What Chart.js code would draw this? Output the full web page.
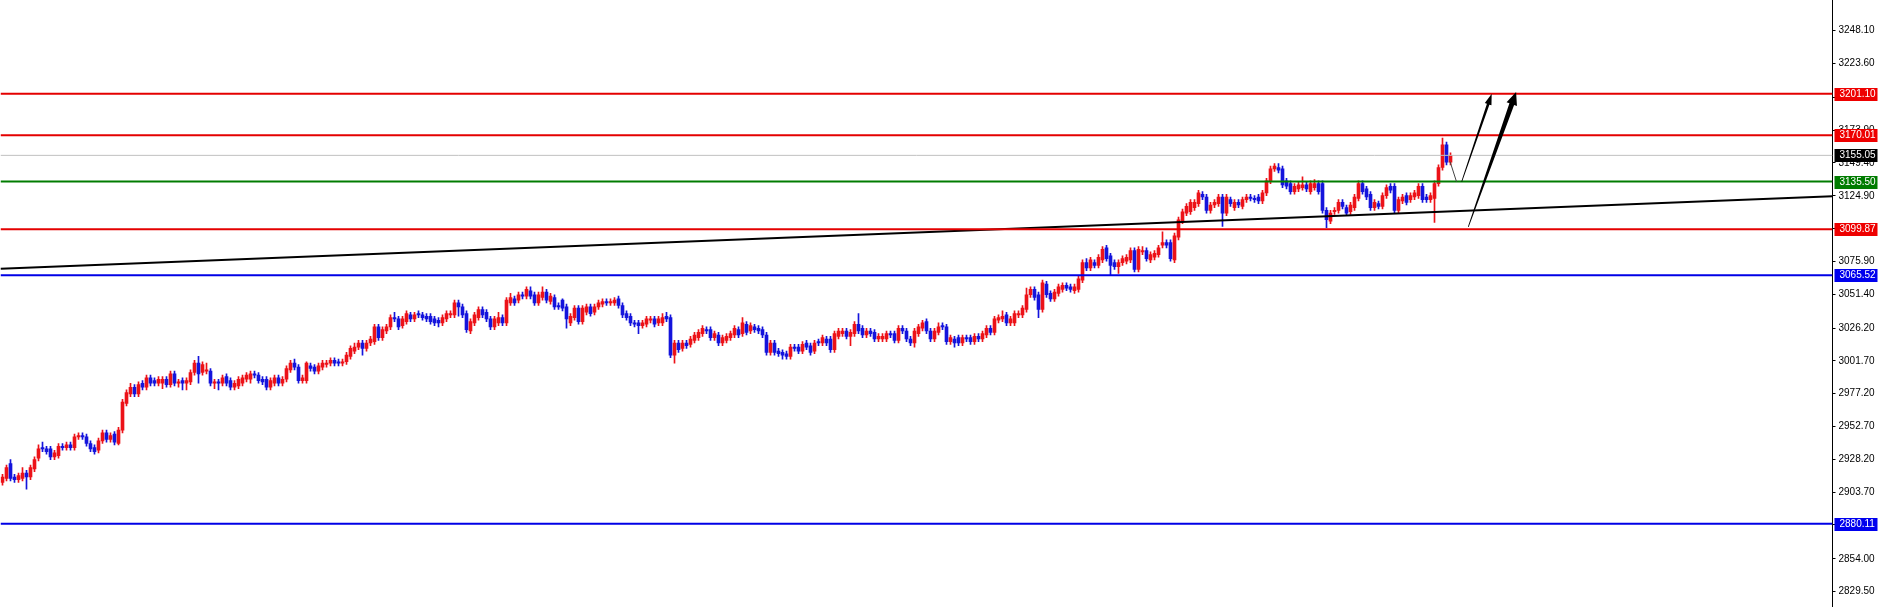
<!DOCTYPE html>
<html>
<head>
<meta charset="utf-8">
<script src="https://cdn.jsdelivr.net/npm/chart.js@4.4.1/dist/chart.umd.min.js"></script>
<style>
  html, body { margin: 0; padding: 0; background: #fff; overflow: hidden; }
  canvas { display: block; }
</style>
</head>
<body>
<canvas id="chart" width="1878" height="607"></canvas>
<script>
// Bougies (une par créneau, ordre chronologique)
const open = [
  2911,2914,2925,2915,2913,2914,2918,2915,2921,2929,
  2937,2936,2936,2930,2931,2938,2937,2939,2937,2945,
  2946,2945,2940,2937,2935,2942,2948,2943,2947,2940,
  2950,2970,2977,2982,2977,2985,2982,2989,2987,2985,
  2985,2988,2984,2992,2985,2987,2985,2986,2993,3000,
  2993,2994,2994,2985,2986,2985,2990,2987,2982,2983,
  2985,2988,2988,2992,2991,2988,2988,2982,2985,2989,
  2985,2988,2995,3000,2997,2987,2987,2998,2997,2994,
  2997,2999,3000,3002,3001,3000,3001,3005,3009,3012,
  3015,3011,3015,3016,3027,3019,3024,3027,3034,3033,
  3028,3031,3036,3033,3037,3036,3035,3035,3033,3032,
  3030,3033,3036,3036,3045,3042,3037,3024,3030,3034,
  3040,3038,3033,3027,3030,3034,3030,3045,3048,3047,
  3051,3050,3054,3051,3045,3049,3053,3046,3049,3043,
  3047,3042,3030,3034,3041,3031,3038,3042,3038,3042,
  3044,3046,3045,3045,3048,3043,3037,3035,3030,3030,
  3028,3029,3032,3033,3030,3030,3035,3034,3006,3015,
  3011,3015,3014,3017,3019,3022,3025,3025,3019,3021,
  3015,3017,3019,3021,3025,3022,3029,3024,3027,3026,
  3025,3021,3008,3015,3009,3008,3007,3005,3012,3012,
  3009,3015,3013,3009,3016,3015,3018,3018,3010,3020,
  3022,3024,3020,3022,3029,3026,3021,3024,3023,3018,
  3018,3018,3022,3022,3017,3026,3024,3018,3015,3022,
  3026,3031,3024,3018,3023,3028,3027,3016,3018,3019,
  3015,3019,3019,3016,3020,3018,3021,3026,3023,3032,
  3033,3036,3030,3030,3036,3036,3040,3051,3055,3051,
  3040,3059,3052,3048,3052,3055,3058,3057,3054,3055,
  3062,3075,3071,3075,3073,3077,3086,3080,3075,3072,
  3075,3076,3077,3084,3070,3083,3084,3077,3079,3081,
  3088,3090,3090,3077,3094,3106,3112,3113,3116,3119,
  3126,3124,3114,3118,3119,3124,3112,3122,3116,3120,
  3117,3122,3124,3123,3124,3121,3127,3136,3145,3146,
  3145,3136,3134,3128,3130,3131,3133,3128,3131,3134,
  3134,3114,3106,3113,3114,3120,3116,3113,3116,3123,
  3134,3130,3126,3116,3119,3117,3125,3132,3132,3114,
  3121,3125,3122,3124,3125,3132,3124,3122,3123,3134,
  3146,3163,3150
];
const high = [
  2917,2924,2928,2917,2918,2922,2920,2924,2930,2939,
  2941,2938,2938,2935,2940,2940,2941,2941,2947,2948,
  2948,2947,2942,2939,2944,2950,2950,2948,2949,2952,
  2973,2980,2985,2984,2986,2987,2991,2991,2989,2990,
  2990,2990,2994,2994,2988,2989,2989,2995,3002,3005,
  3001,3000,2996,2988,2988,2991,2992,2989,2987,2990,
  2991,2993,2994,2994,2993,2990,2990,2989,2991,2991,
  2990,2998,3002,3003,2999,2991,3001,3000,2999,3000,
  3002,3002,3004,3004,3003,3003,3008,3013,3015,3017,
  3017,3017,3020,3029,3029,3027,3029,3036,3038,3035,
  3035,3039,3038,3038,3039,3038,3037,3037,3035,3034,
  3036,3039,3039,3047,3047,3044,3039,3033,3038,3042,
  3042,3040,3035,3035,3038,3036,3049,3052,3050,3053,
  3053,3057,3057,3053,3053,3057,3055,3052,3051,3045,
  3048,3044,3037,3043,3043,3043,3044,3044,3044,3047,
  3048,3048,3048,3049,3050,3045,3039,3037,3032,3032,
  3032,3035,3035,3035,3035,3037,3038,3036,3017,3017,
  3017,3017,3020,3023,3025,3028,3027,3027,3024,3023,
  3021,3022,3024,3028,3027,3034,3031,3030,3029,3028,
  3027,3023,3017,3017,3011,3010,3009,3014,3014,3014,
  3016,3017,3015,3017,3018,3021,3020,3020,3024,3026,
  3026,3026,3025,3031,3037,3028,3026,3026,3025,3022,
  3022,3024,3024,3024,3028,3028,3026,3020,3026,3029,
  3032,3033,3026,3026,3030,3030,3029,3021,3020,3021,
  3021,3021,3021,3022,3022,3024,3028,3028,3035,3036,
  3039,3038,3035,3039,3039,3043,3056,3057,3057,3053,
  3062,3061,3054,3055,3059,3060,3060,3059,3059,3065,
  3077,3078,3079,3077,3081,3087,3088,3082,3077,3077,
  3080,3081,3086,3086,3087,3087,3086,3083,3084,3088,
  3098,3092,3092,3097,3109,3115,3119,3122,3122,3129,
  3128,3126,3120,3122,3126,3126,3126,3124,3122,3122,
  3124,3126,3126,3125,3126,3129,3138,3147,3149,3149,
  3147,3138,3136,3134,3135,3139,3135,3136,3137,3136,
  3136,3116,3114,3116,3122,3122,3118,3120,3126,3136,
  3136,3132,3128,3122,3121,3127,3133,3134,3134,3124,
  3126,3127,3127,3129,3134,3134,3126,3127,3136,3148,
  3168,3165,3157
];
const low = [
  2909,2912,2912,2911,2911,2912,2906,2913,2919,2927,
  2934,2932,2928,2928,2929,2935,2935,2935,2935,2943,
  2943,2938,2934,2932,2933,2940,2941,2941,2939,2939,
  2948,2968,2975,2975,2975,2980,2980,2983,2983,2983,
  2981,2982,2982,2983,2982,2980,2980,2984,2991,2985,
  2991,2992,2983,2981,2980,2983,2983,2980,2980,2981,
  2983,2986,2985,2989,2985,2984,2980,2980,2983,2983,
  2983,2986,2993,2995,2985,2985,2985,2994,2992,2992,
  2995,2997,2998,2998,2998,2998,2999,3003,3007,3010,
  3006,3009,3013,3014,3017,3017,3022,3025,3031,3025,
  3026,3029,3031,3031,3034,3032,3031,3029,3028,3027,
  3028,3031,3034,3034,3035,3034,3023,3022,3028,3032,
  3034,3031,3025,3025,3028,3028,3028,3043,3043,3045,
  3048,3048,3048,3043,3043,3047,3045,3044,3040,3040,
  3039,3026,3028,3032,3029,3029,3036,3035,3036,3040,
  3042,3043,3043,3043,3041,3034,3032,3028,3027,3022,
  3026,3027,3030,3027,3028,3028,3031,3004,3000,3008,
  3009,3011,3012,3015,3017,3020,3022,3017,3017,3013,
  3013,3015,3017,3019,3019,3020,3021,3022,3023,3022,
  3019,3006,3006,3006,3005,3003,3003,3003,3009,3007,
  3007,3010,3006,3007,3013,3013,3013,3008,3008,3018,
  3020,3018,3013,3020,3022,3019,3019,3020,3016,3016,
  3016,3016,3019,3015,3015,3022,3016,3013,3012,3020,
  3024,3022,3016,3016,3021,3025,3014,3014,3012,3013,
  3013,3016,3014,3014,3016,3016,3019,3021,3021,3030,
  3031,3028,3028,3028,3034,3034,3038,3049,3047,3034,
  3038,3049,3046,3046,3050,3053,3054,3053,3052,3053,
  3060,3069,3069,3071,3071,3075,3076,3066,3070,3067,
  3073,3074,3075,3068,3068,3081,3076,3075,3077,3079,
  3086,3086,3076,3075,3092,3104,3110,3111,3114,3117,
  3122,3112,3112,3116,3117,3102,3110,3117,3114,3116,
  3115,3120,3121,3120,3119,3119,3125,3134,3143,3142,
  3131,3130,3126,3126,3128,3129,3128,3126,3129,3126,
  3112,3101,3104,3111,3112,3115,3110,3111,3114,3121,
  3126,3122,3114,3114,3115,3115,3123,3127,3112,3112,
  3119,3118,3120,3122,3123,3120,3120,3120,3105,3132,
  3144,3148,3148
];
const close = [
  2915,2922,2914,2913,2916,2918,2915,2922,2928,2936,
  2936,2934,2930,2933,2938,2937,2939,2937,2945,2946,
  2945,2940,2936,2934,2942,2948,2943,2946,2941,2950,
  2971,2978,2982,2977,2984,2982,2989,2985,2985,2988,
  2988,2984,2992,2985,2986,2985,2987,2993,3000,2992,
  2999,2995,2985,2986,2985,2989,2985,2982,2985,2988,
  2989,2991,2992,2991,2987,2986,2982,2987,2989,2985,
  2988,2996,3000,2997,2987,2989,3000,2996,2994,2998,
  3000,3000,3002,3000,3000,3001,3006,3011,3012,3015,
  3011,3015,3018,3027,3019,3025,3027,3034,3033,3027,
  3033,3037,3033,3036,3036,3034,3033,3031,3030,3030,
  3034,3037,3037,3045,3042,3036,3025,3031,3036,3040,
  3036,3033,3027,3033,3034,3030,3047,3049,3045,3051,
  3050,3055,3050,3045,3051,3053,3047,3050,3042,3042,
  3041,3033,3035,3041,3031,3041,3042,3037,3042,3045,
  3046,3045,3046,3047,3043,3036,3034,3030,3029,3028,
  3030,3033,3033,3029,3033,3034,3033,3006,3015,3010,
  3015,3013,3018,3021,3023,3026,3024,3019,3022,3015,
  3019,3020,3022,3026,3021,3030,3023,3028,3025,3024,
  3021,3008,3015,3008,3007,3006,3005,3012,3011,3009,
  3014,3012,3008,3015,3015,3019,3015,3010,3022,3024,
  3024,3020,3023,3029,3024,3021,3024,3022,3018,3020,
  3020,3022,3021,3017,3026,3024,3018,3015,3024,3027,
  3030,3024,3018,3024,3027,3027,3016,3019,3015,3015,
  3019,3018,3016,3020,3018,3022,3026,3023,3033,3034,
  3035,3030,3033,3037,3037,3041,3051,3055,3049,3040,
  3060,3051,3048,3053,3057,3058,3056,3055,3057,3063,
  3075,3071,3077,3073,3079,3085,3078,3073,3072,3075,
  3078,3079,3084,3070,3085,3084,3078,3081,3082,3086,
  3090,3088,3078,3095,3107,3113,3117,3120,3120,3127,
  3124,3114,3118,3120,3124,3112,3124,3119,3120,3118,
  3122,3124,3123,3122,3121,3127,3136,3145,3147,3144,
  3133,3132,3128,3132,3133,3133,3130,3134,3134,3128,
  3114,3107,3112,3114,3120,3117,3112,3118,3124,3134,
  3128,3124,3116,3120,3117,3125,3131,3129,3114,3122,
  3124,3120,3125,3127,3132,3122,3122,3125,3134,3146,
  3163,3150,3155.05
];

// Graduations de l'échelle de prix (à droite)
const tickValues = [3248.10, 3223.60, 3198.40, 3173.90, 3149.40, 3124.90, 3100.40, 3075.90,
  3051.40, 3026.20, 3001.70, 2977.20, 2952.70, 2928.20, 2903.70, 2879.20, 2854.00, 2829.50];

// Niveaux horizontaux tracés sur le graphique
const levelValues = [3201.10, 3170.01, 3155.05, 3135.50, 3099.87, 3065.52, 2880.11];
const levelColors = ['#e40000', '#e40000', '#c0c0c0', '#007c00', '#e40000', '#0000e6', '#0000e6'];
const levelBoxColors = ['#ee0000', '#ee0000', '#000000', '#007c00', '#ee0000', '#0000ee', '#0000ee'];

// Ligne de tendance : [créneau, prix] aux deux bouts
const trendFrom = [-0.5, 3070.5];
const trendTo = [457.5, 3124.6];

// Flèches dessinées à la main : [créneau, prix]
const connFrom = [361.9, 3150.3], connTo = [363.5, 3135.4];
const arrow1From = [364.8, 3135.4], arrow1To = [372.3, 3201.0];
const arrow2From = [366.45, 3101.6], arrow2To = [378.4, 3202.4];

const SLOTS = 458; // créneaux visibles, y compris l'espace vide à droite
const slotLabels = Array.from({ length: SLOTS }, (_, i) => String(i));

const bullColor = '#ec1218';
const bearColor = '#1414dc';
const candleColors = close.map((c, i) => (c >= open[i] ? bullColor : bearColor));

const wickData = close.map((c, i) => [low[i], high[i]]);
const bodyData = close.map((c, i) => [open[i], c]);

const levelSets = levelValues.map((v, i) => ({
  type: 'line',
  xAxisID: 'x2',
  data: [{ x: -0.5, y: v }, { x: SLOTS - 0.5, y: v }],
  borderColor: levelColors[i],
  borderWidth: i === 2 ? 1 : 2,
  pointRadius: 0,
  fill: false,
  order: 0,
}));

const fontSpec = { family: 'Liberation Sans', size: 10 };

// Étiquettes colorées des niveaux + flèches
const overlayPlugin = {
  id: 'overlay',
  afterDatasetsDraw(chart) {
    const { ctx, scales } = chart;
    const px = (p) => [scales.x2.getPixelForValue(p[0]), scales.y.getPixelForValue(p[1])];
    const arrow = (a, b, w0, w1, headLen, headW) => {
      const [x1, y1] = px(a), [x2, y2] = px(b);
      const dx = x2 - x1, dy = y2 - y1, len = Math.hypot(dx, dy);
      const ux = dx / len, uy = dy / len, nx = -uy, ny = ux;
      const bx = x2 - ux * headLen, by = y2 - uy * headLen;
      ctx.beginPath();
      ctx.moveTo(x1 + nx * w0 / 2, y1 + ny * w0 / 2);
      ctx.lineTo(bx + nx * w1 / 2, by + ny * w1 / 2);
      ctx.lineTo(bx + nx * headW / 2, by + ny * headW / 2);
      ctx.lineTo(x2, y2);
      ctx.lineTo(bx - nx * headW / 2, by - ny * headW / 2);
      ctx.lineTo(bx - nx * w1 / 2, by - ny * w1 / 2);
      ctx.lineTo(x1 - nx * w0 / 2, y1 - ny * w0 / 2);
      ctx.closePath();
      ctx.fill();
    };
    ctx.save();
    ctx.strokeStyle = '#444';
    ctx.lineWidth = 1;
    const [c1x, c1y] = px(connFrom), [c2x, c2y] = px(connTo);
    ctx.beginPath();
    ctx.moveTo(c1x, c1y);
    ctx.lineTo(c2x, c2y);
    ctx.stroke();
    ctx.fillStyle = '#000';
    arrow(arrow1From, arrow1To, 0.8, 2.6, 11, 7);
    arrow(arrow2From, arrow2To, 0.8, 5, 13, 11);
    ctx.restore();
  },
  afterDraw(chart) {
    const { ctx, scales } = chart;
    const yScale = scales.y;
    ctx.save();
    ctx.font = fontSpec.size + 'px "' + fontSpec.family + '"';
    ctx.textBaseline = 'middle';
    ctx.textAlign = 'left';
    levelValues.forEach((v, i) => {
      const y = Math.round(yScale.getPixelForValue(v));
      ctx.fillStyle = levelBoxColors[i];
      ctx.fillRect(yScale.left + 2, y - 6, 43, 13);
      ctx.fillStyle = '#fff';
      ctx.fillText(v.toFixed(2), yScale.left + 7, y + 0.5);
    });
    ctx.restore();
  },
};

new Chart(document.getElementById('chart'), {
  type: 'bar',
  data: {
    labels: slotLabels,
    datasets: [
      {
        type: 'bar',
        data: wickData,
        backgroundColor: candleColors,
        barThickness: 1,
        grouped: false,
        order: 2,
      },
      {
        type: 'bar',
        data: bodyData,
        backgroundColor: candleColors,
        barThickness: 3,
        grouped: false,
        order: 1,
      },
      ...levelSets,
      {
        type: 'line',
        xAxisID: 'x2',
        data: [{ x: trendFrom[0], y: trendFrom[1] }, { x: trendTo[0], y: trendTo[1] }],
        borderColor: '#000',
        borderWidth: 2,
        pointRadius: 0,
        fill: false,
        order: 0,
      },
    ],
  },
  options: {
    responsive: false,
    animation: false,
    events: [],
    layout: { padding: { left: 0.5, right: 0, top: 0, bottom: 0 } },
    plugins: { legend: { display: false }, tooltip: { enabled: false } },
    scales: {
      x: { type: 'category', display: false, offset: true, grid: { display: false } },
      x2: { type: 'linear', display: false, offset: false, grid: { offset: false }, min: -0.5, max: SLOTS - 0.5 },
      y: {
        position: 'right',
        min: 2818.0,
        max: 3271.0,
        afterBuildTicks: (s) => { s.ticks = tickValues.map((v) => ({ value: v })); },
        afterFit: (s) => { s.width = 45.5; s.paddingTop = 0; s.paddingBottom = 0; },
        ticks: {
          color: '#000',
          font: fontSpec,
          padding: 3,
          callback: (v) => Number(v).toFixed(2),
        },
        grid: { drawOnChartArea: false, drawTicks: true, tickLength: 3, color: '#000' },
        border: { display: true, color: '#000', width: 1 },
      },
    },
  },
  plugins: [overlayPlugin],
});
</script>
</body>
</html>
